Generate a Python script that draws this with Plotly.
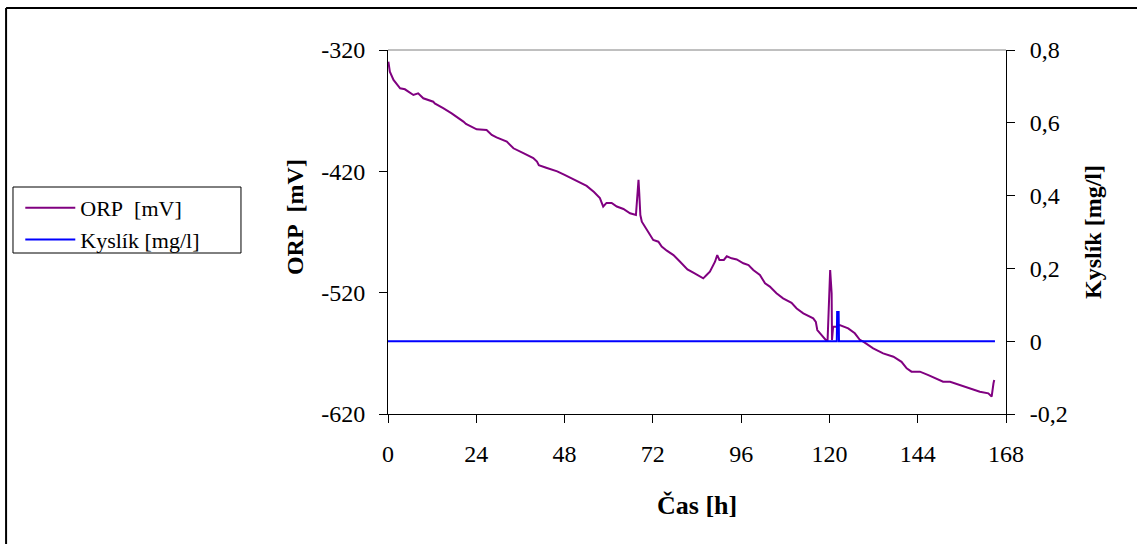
import plotly.graph_objects as go

# ORP [mV] vs time [h]
orp_t = [0.1, 0.5, 1.5, 3.3, 4.6, 6.9, 8.2, 9.6, 12.3, 12.7, 15.0, 17.3, 20.5, 21.2, 24.1,
         26.8, 28.2, 29.5, 32.3, 34.1, 36.8, 39.5, 40.5, 41.0, 43.0, 46.0, 48.0, 50.0, 52.0,
         54.0, 56.0, 57.6, 58.5, 59.0, 59.4, 60.8, 62.2, 64.0, 64.9, 65.8, 67.4, 67.8, 68.1,
         68.3, 68.6, 69.0, 69.9, 70.8, 71.2, 72.1, 73.5, 74.4, 75.8, 77.6, 79.4, 81.4, 83.0,
         84.8, 85.7, 86.6, 87.5, 88.9, 89.5, 90.1, 91.3, 92.1, 93.4, 94.8, 96.6, 98.0, 99.3,
         101.1, 102.5, 103.8, 105.6, 107.4, 109.7, 111.1, 112.9, 115.6, 116.3, 116.7, 118.4,
         119.0, 119.5, 119.9, 120.2, 120.6, 120.7, 121.0, 121.9, 122.8, 123.7, 125.1, 126.9,
         128.3, 129.2, 131.9, 134.6, 137.4, 139.6, 141.0, 142.3, 144.6, 146.9, 149.1, 150.9,
         152.8, 155.5, 158.2, 160.9, 163.2, 164.1, 164.6, 164.8]
orp_v = [-329.6, -337.9, -344.7, -351.6, -352.4, -357.1, -355.7, -359.8, -362.6, -364.0,
         -368.0, -372.2, -379.0, -381.0, -385.4, -386.0, -390.0, -392.0, -395.5, -401.0,
         -405.0, -409.0, -412.0, -415.0, -417.0, -420.0, -423.0, -426.0, -429.0, -432.0,
         -437.0, -442.0, -449.0, -447.7, -446.0, -446.0, -449.0, -451.0, -453.0, -454.6,
         -456.0, -438.0, -427.0, -438.0, -456.0, -461.5, -465.6, -469.7, -472.0, -476.6,
         -478.0, -482.0, -485.4, -489.0, -494.5, -500.8, -503.5, -506.8, -508.2, -505.5,
         -502.7, -494.5, -489.0, -493.0, -493.0, -490.0, -491.7, -492.6, -495.8, -497.2,
         -501.3, -505.4, -512.3, -515.0, -520.5, -524.7, -528.3, -533.0, -537.0, -541.2,
         -544.0, -550.8, -556.3, -559.0, -559.0, -520.5, -501.3, -520.5, -559.0, -548.0,
         -548.0, -546.7, -548.0, -549.4, -553.5, -559.0, -560.4, -565.9, -570.0, -572.8,
         -577.0, -582.4, -585.1, -585.1, -587.9, -590.6, -593.4, -593.4, -596.1, -598.8,
         -601.6, -603.0, -605.7, -594.7, -592.0]

# Oxygen [mg/l] vs time [h]
o2_t = [0.0, 122.0, 122.1, 122.5, 122.6, 165.0]
o2_v = [0.0, 0.0, 0.08, 0.08, 0.0, 0.0]

x_ticks = [0, 24, 48, 72, 96, 120, 144, 168]
y_ticks = [-620, -520, -420, -320]
y_ticktext = ["-620", "-520", "-420", "-320"]
y2_ticks = [-0.2, 0, 0.2, 0.4, 0.6, 0.8]
y2_ticktext = ["-0,2", "0", "0,2", "0,4", "0,6", "0,8"]

FONT = "'Liberation Serif', 'Times New Roman', Times, serif"

fig = go.Figure()
fig.add_trace(go.Scatter(x=orp_t, y=orp_v, mode="lines", name="ORP\u00a0\u00a0[mV]",
                         line=dict(color="#800080", width=2)))
fig.add_trace(go.Scatter(x=o2_t, y=o2_v, mode="lines", name="Kyslík [mg/l]", yaxis="y2",
                         line=dict(color="#0000FF", width=2)))

fig.update_layout(
    width=1137, height=544,
    margin=dict(l=388, r=131, t=50, b=130, autoexpand=False),
    paper_bgcolor="white", plot_bgcolor="white",
    font=dict(family=FONT, size=24, color="black"),
    showlegend=True,
    legend=dict(x=-0.595, y=0.6236, xanchor="left", yanchor="top",
                borderwidth=0, bgcolor="rgba(0,0,0,0)", itemwidth=50,
                tracegroupgap=0,
                font=dict(family=FONT, size=22, color="black")),
    xaxis=dict(range=[0, 168], tickvals=x_ticks, showline=True, linecolor="black",
               linewidth=1, ticks="outside", ticklen=8, tickcolor="black",
               showgrid=False, zeroline=False, ticklabelstandoff=10),
    yaxis=dict(range=[-620, -320], tickvals=y_ticks, ticktext=y_ticktext, showline=True,
               linecolor="black", linewidth=1, ticks="outside", ticklen=8, tickcolor="black",
               showgrid=False, zeroline=False, ticklabelstandoff=9),
    yaxis2=dict(range=[-0.2, 0.8], tickvals=y2_ticks, ticktext=y2_ticktext, overlaying="y",
                side="right", showline=True, linecolor="black", linewidth=1, ticks="outside",
                ticklen=8, tickcolor="black", showgrid=False, zeroline=False,
                ticklabelstandoff=10),
    shapes=[
        dict(type="line", xref="paper", yref="paper", x0=0, x1=1, y0=1, y1=1,
             line=dict(color="#808080", width=1)),
        dict(type="line", xref="paper", yref="paper", x0=-0.618, x1=1.3, y0=1.1154, y1=1.1154,
             line=dict(color="black", width=2)),
        dict(type="line", xref="paper", yref="paper", x0=-0.618, x1=-0.618, y0=-0.5, y1=1.1154,
             line=dict(color="black", width=2)),
        # legend frame
        dict(type="rect", xref="paper", yref="paper", x0=-0.6068, x1=-0.2379,
             y0=0.4423, y1=0.6236, line=dict(color="black", width=1)),
    ],
    annotations=[
        dict(text="<b>ORP\u00a0\u00a0[mV]</b>", xref="paper", yref="paper", x=-0.1505, y=0.541,
             xanchor="center", yanchor="middle",
             textangle=-90, showarrow=False, font=dict(family=FONT, size=24)),
        dict(text="<b>Kyslík [mg/l]</b>", xref="paper", yref="paper", x=1.1408, y=0.5,
             xanchor="center", yanchor="middle",
             textangle=-90, showarrow=False, font=dict(family=FONT, size=24)),
        dict(text="<b>Čas [h]</b>", xref="paper", yref="paper", x=0.5, y=-0.25,
             xanchor="center", yanchor="middle",
             showarrow=False, font=dict(family=FONT, size=26)),
    ],
)

fig.write_html("out.html")
